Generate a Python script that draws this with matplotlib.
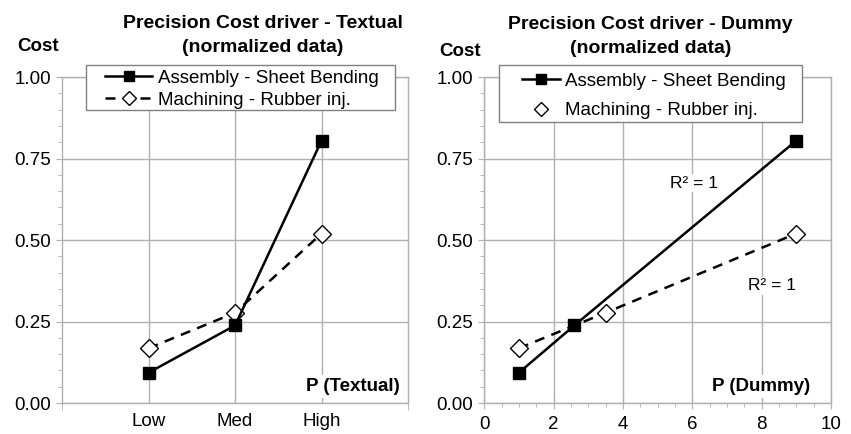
import matplotlib.pyplot as plt
from matplotlib.ticker import MultipleLocator, FixedLocator
from matplotlib.patches import Rectangle

plt.rcParams['font.family'] = ['Liberation Sans', 'DejaVu Sans']

# data
categories = ['Low', 'Med', 'High']
cat_pos = [1, 2, 3]
asm_cost = [0.093, 0.238, 0.805]
mach_cost = [0.168, 0.277, 0.52]

dummy_asm_x = [1, 2.6, 9]
dummy_mach_x = [1, 3.5, 9]
series_names = ['Assembly - Sheet Bending', 'Machining - Rubber inj.']

grey = '#b0b0b0'
fs = 13.5

fig = plt.figure(figsize=(8.51, 4.34), dpi=100)
ax1 = fig.add_axes([0.0729, 0.0714, 0.4066, 0.751])
ax2 = fig.add_axes([0.569, 0.0714, 0.4074, 0.751])


def style_axes(ax):
    ax.set_ylim(0, 1)
    ax.yaxis.set_major_locator(MultipleLocator(0.25))
    ax.yaxis.set_minor_locator(MultipleLocator(0.05))
    ax.yaxis.set_major_formatter('{x:.2f}')
    ax.grid(True, color=grey, linewidth=1.0)
    for s in ax.spines.values():
        s.set_color(grey)
        s.set_linewidth(1.0)
    ax.tick_params(axis='y', which='both', color=grey, direction='out', labelsize=fs, pad=4)
    ax.tick_params(axis='y', which='major', length=4)
    ax.tick_params(axis='y', which='minor', length=3)
    ax.tick_params(axis='x', color=grey, labelsize=fs)
    ax.set_axisbelow(True)


def legend_box(ax, x0, y0, x1, y1):
    # plain rectangular frame behind the legend entries
    ax.add_patch(Rectangle((x0, y0), x1 - x0, y1 - y0, transform=ax.transAxes,
                           facecolor='white', edgecolor='#808080', lw=1.0,
                           zorder=4.5, clip_on=False))


# left chart
style_axes(ax1)
ax1.set_xlim(0, 4)
ax1.xaxis.set_major_locator(FixedLocator(cat_pos))
ax1.set_xticklabels(categories)
ax1.xaxis.set_minor_locator(FixedLocator([0, 4]))
ax1.tick_params(axis='x', which='major', length=0, pad=7)
ax1.tick_params(axis='x', which='minor', length=5, color=grey, direction='out')

ax1.plot(cat_pos, asm_cost, '-', color='black', lw=1.8, marker='s', ms=9,
         mfc='black', mec='black', label=series_names[0], zorder=4)
ax1.plot(cat_pos, mach_cost, '--', color='black', lw=1.8, marker='D', ms=9.5,
         mfc='white', mec='black', mew=1.0, dashes=(4, 3), label=series_names[1], zorder=3)

legend_box(ax1, 0.069, 0.899, 0.962, 1.037)
leg1 = ax1.legend(loc='upper left', bbox_to_anchor=(0.125, 1.023), fontsize=fs,
                  frameon=False, handlelength=2.5, borderpad=0, labelspacing=0.25,
                  handletextpad=0.3, borderaxespad=0, markerscale=0.75)
leg1.set_zorder(6)

ax1.text(0.975, 0.05, 'P (Textual)', transform=ax1.transAxes, ha='right', va='center',
         fontsize=fs, fontweight='bold',
         bbox=dict(facecolor='white', edgecolor='none', pad=2))
ax1.text(-0.01, 1.095, 'Cost', transform=ax1.transAxes, ha='right', va='center',
         fontsize=fs, fontweight='bold')
ax1.text(0.58, 1.127, 'Precision Cost driver - Textual\n(normalized data)',
         transform=ax1.transAxes, ha='center', va='center', fontsize=14,
         fontweight='bold', linespacing=1.5)

# right chart
style_axes(ax2)
ax2.set_xlim(0, 10)
ax2.xaxis.set_major_locator(MultipleLocator(2))
ax2.xaxis.set_minor_locator(MultipleLocator(0.5))
ax2.tick_params(axis='x', which='major', length=8, direction='inout', pad=5)
ax2.tick_params(axis='x', which='minor', length=3, color=grey, direction='out')

ax2.plot(dummy_asm_x, asm_cost, '-', color='black', lw=1.8, marker='s', ms=9,
         mfc='black', mec='black', label=series_names[0], zorder=4)
ax2.plot(dummy_mach_x, mach_cost, '--', color='black', lw=1.8, dashes=(4, 3), zorder=3)
ax2.plot(dummy_mach_x, mach_cost, 'D', ms=9.5, mfc='white', mec='black', mew=1.0,
         label=series_names[1], zorder=5)

legend_box(ax2, 0.042, 0.862, 0.916, 1.037)
leg2 = ax2.legend(loc='upper left', bbox_to_anchor=(0.11, 1.013), fontsize=fs,
                  frameon=False, handlelength=2.0, borderpad=0, labelspacing=0.65,
                  handletextpad=0.3, borderaxespad=0, markerscale=0.75)
leg2.set_zorder(6)

ax2.text(6.05, 0.675, 'R² = 1', ha='center', va='center', fontsize=12.5,
         bbox=dict(facecolor='white', edgecolor='none', pad=1))
ax2.text(8.3, 0.36, 'R² = 1', ha='center', va='center', fontsize=12.5,
         bbox=dict(facecolor='white', edgecolor='none', pad=1))
ax2.text(0.94, 0.05, 'P (Dummy)', transform=ax2.transAxes, ha='right', va='center',
         fontsize=fs, fontweight='bold',
         bbox=dict(facecolor='white', edgecolor='none', pad=2))
ax2.text(-0.01, 1.08, 'Cost', transform=ax2.transAxes, ha='right', va='center',
         fontsize=fs, fontweight='bold')
ax2.text(0.48, 1.125, 'Precision Cost driver - Dummy\n(normalized data)',
         transform=ax2.transAxes, ha='center', va='center', fontsize=14,
         fontweight='bold', linespacing=1.5)

fig.savefig('out.png', dpi=100)
